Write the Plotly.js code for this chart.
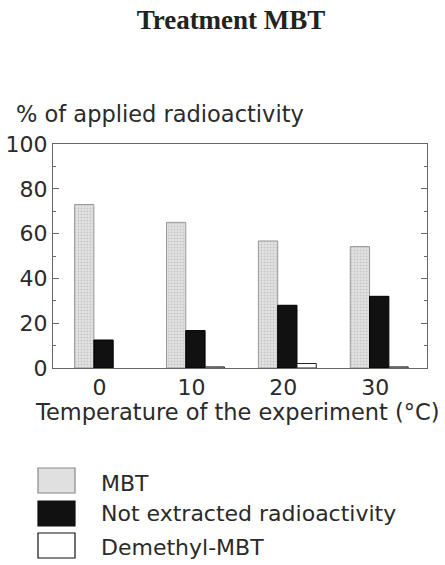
<!DOCTYPE html>
<html>
<head>
<meta charset="utf-8">
<script src="https://cdn.plot.ly/plotly-3.0.1.min.js"></script>
<style>html,body{margin:0;padding:0;background:#fff;}</style>
</head>
<body>
<div id="chart" style="width:445px;height:565px;"></div>
<script>
var categories = ['0', '10', '20', '30'];
var seriesNames = ['MBT', 'Not extracted radioactivity', 'Demethyl-MBT'];
var mbt = [73, 65, 56.7, 54.2];
var notExtracted = [12.5, 16.7, 28, 32];
var demethyl = [null, 0.5, 2, 0.5];
var yTickVals = [0, 20, 40, 60, 80, 100];
var yTickText = ['0', '20', '40', '60', '80', '100'];

var titleText = 'Treatment MBT';
var yTitleText = '% of applied radioactivity';
var xTitleText = 'Temperature of the experiment (°C)';

var fills = ['#e2e2e2', '#111111', '#ffffff'];
var outlines = ['#999999', '#000000', '#222222'];

var L = 53, R = 18, T = 144, B = 197, W = 445, H = 565;
var plotW = W - L - R, plotH = H - T - B;
function px(X) { return (X - L) / plotW; }
function py(Y) { return (H - B - Y) / plotH; }

var series = [mbt, notExtracted, demethyl];
var traces = series.map(function (vals, i) {
  var m = { color: fills[i], line: { color: outlines[i], width: 1 } };
  if (i === 0) {
    m.pattern = { shape: '.', fgcolor: '#c4c4c4', bgcolor: '#e4e4e4', size: 3, solidity: 0.35, fillmode: 'replace' };
  }
  return {
    type: 'bar',
    x: categories,
    y: vals,
    name: seriesNames[i],
    marker: m,
    hoverinfo: 'skip'
  };
});

var textColor = '#2a2a2a';
var sans = 'DejaVu Sans, Liberation Sans, Arial, sans-serif';

var shapes = [];
var annotations = [];
var legendBoxTop = [468, 501, 533];
var legendBoxH = 25;
var legendTextY = [483, 513, 547];
seriesNames.forEach(function (n, i) {
  shapes.push({
    type: 'rect', xref: 'paper', yref: 'paper',
    x0: px(38), x1: px(75), y0: py(legendBoxTop[i]), y1: py(legendBoxTop[i] + legendBoxH),
    fillcolor: i === 0 ? '#e0e0e0' : fills[i], line: { color: i === 0 ? '#888' : '#111', width: 1.2 }
  });
  annotations.push({
    xref: 'paper', yref: 'paper', x: px(99), y: py(legendTextY[i]),
    xanchor: 'left', yanchor: 'middle', showarrow: false,
    text: n, font: { family: sans, size: 22, color: textColor }
  });
});
annotations.push({
  xref: 'paper', yref: 'paper', x: px(14), y: py(114),
  xanchor: 'left', yanchor: 'middle', showarrow: false,
  text: yTitleText, font: { family: sans, size: 22.5, color: textColor }
});
annotations.push({
  xref: 'paper', yref: 'paper', x: px(33), y: py(412),
  xanchor: 'left', yanchor: 'middle', showarrow: false,
  text: xTitleText, font: { family: sans, size: 22.5, color: textColor }
});

var layout = {
  width: W, height: H,
  margin: { l: L, r: R, t: T, b: B },
  paper_bgcolor: '#fff', plot_bgcolor: '#fff',
  showlegend: false,
  barmode: 'group', bargap: 0.37, bargroupgap: 0,
  title: {
    text: titleText, x: 231 / W, xanchor: 'center', y: 1 - 20 / H, yanchor: 'middle',
    font: { family: 'Liberation Serif, Times New Roman, serif', size: 27, color: '#222', weight: 'bold' }
  },
  xaxis: {
    type: 'category', range: [-0.55, 3.52],
    showline: true, linecolor: '#666', linewidth: 1, mirror: true,
    ticks: '', showgrid: false, zeroline: false,
    ticklabelshift: -4,
    tickfont: { family: sans, size: 22, color: textColor },
    minor: { tick0: 0.5, dtick: 1, ticks: 'inside', ticklen: 4, tickcolor: '#666', showgrid: false },
    fixedrange: true
  },
  yaxis: {
    range: [0, 100], tickvals: yTickVals, ticktext: yTickText,
    showline: true, linecolor: '#666', linewidth: 1, mirror: 'ticks',
    ticks: 'inside', ticklen: 6, tickcolor: '#666',
    showgrid: false, zeroline: false,
    tickfont: { family: sans, size: 22, color: textColor },
    minor: { dtick: 10, ticks: 'inside', ticklen: 3, tickcolor: '#666', showgrid: false },
    fixedrange: true
  },
  shapes: shapes,
  annotations: annotations
};

Plotly.newPlot('chart', traces, layout, { displayModeBar: false, staticPlot: true });
</script>
</body>
</html>
